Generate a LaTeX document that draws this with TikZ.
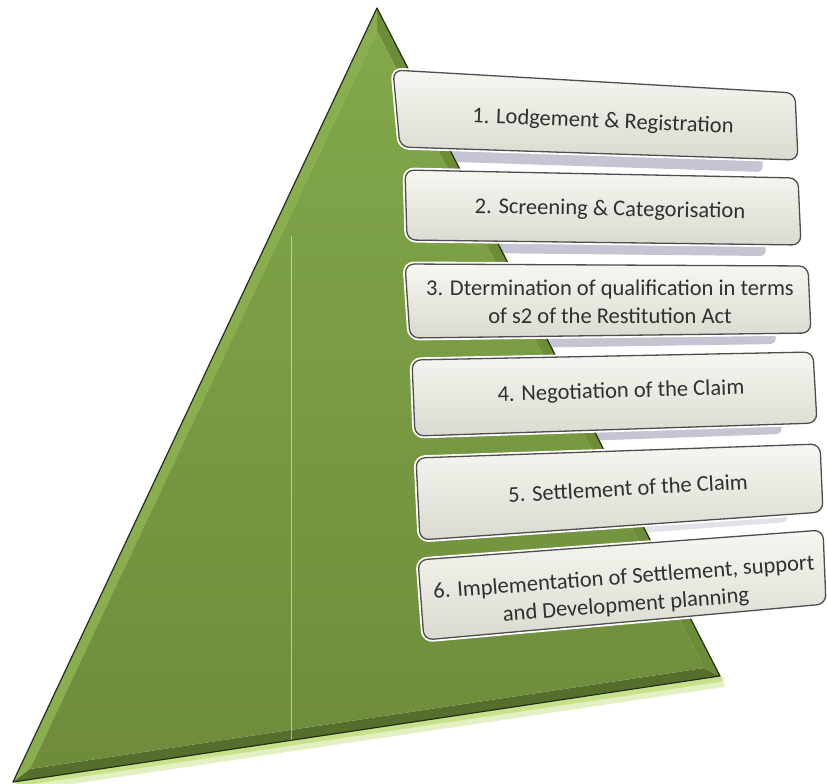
\documentclass[tikz,border=0pt]{standalone}
\usepackage{fontspec}
\setmainfont{Carlito}
\usepackage{tikz}
\usepackage{xcolor}

\definecolor{leafhi}{RGB}{130,168,74}
\definecolor{leaf}{RGB}{110,140,60}
\definecolor{leafside}{RGB}{136,174,78}
\definecolor{leafmid}{RGB}{108,140,56}
\definecolor{leaflo}{RGB}{86,110,44}
\definecolor{leafedge}{RGB}{36,46,22}
\definecolor{glow}{RGB}{200,226,138}
\definecolor{boxtop}{RGB}{247,247,242}
\definecolor{boxbot}{RGB}{218,218,208}
\definecolor{boxline}{RGB}{78,78,78}
\definecolor{boxshade}{RGB}{196,196,210}
\definecolor{ink}{RGB}{48,48,48}

\tikzset{
  stagebox/.style={draw=boxline, line width=1.3pt, rounded corners=9pt,
    top color=boxtop, bottom color=boxbot,
    preaction={draw=white, line width=5pt}},
  stageshadow/.style={fill=boxshade, rounded corners=6pt},
  stagetext/.style={text=ink, align=center, inner sep=0pt,
    font=\fontsize{22.5}{27.5}\selectfont}
}

\begin{document}
\begin{tikzpicture}[x=1pt,y=-1pt]
\useasboundingbox (0,0) rectangle (827,784);
\fill[white] (0,0) rectangle (827,784);

% shadows of the boxes
\fill[stageshadow] (358,82) -- (760,105) -- (763,172) -- (365,159) -- cycle;
\fill[stageshadow] (370,182) -- (763,190) -- (766,256) -- (372,252) -- cycle;
\fill[stageshadow] (370,276) -- (773,278) -- (776,344) -- (375,350) -- cycle;
\fill[stageshadow] (377,372) -- (778,364) -- (782,434) -- (380,448) -- cycle;
\fill[stageshadow, opacity=0.5] (381,470) -- (785,456) -- (788,522) -- (385,552) -- cycle;

% pyramid
\coordinate (apex) at (377,8);
\coordinate (left) at (13,782);
\coordinate (right) at (720,676);
\coordinate (apexin) at (377,31);
\coordinate (leftin) at (30,769);
\coordinate (rightin) at (704,668);

\draw[glow, line width=10pt, opacity=0.5] (18,787) -- (724,682);
\draw[glow, line width=5pt] (16,784) -- (722,679);
\fill[leafside] (apex) -- (left) -- (leftin) -- (apexin) -- cycle;
\fill[leaflo] (left) -- (right) -- (rightin) -- (leftin) -- cycle;
\fill[leafmid] (right) -- (apex) -- (apexin) -- (rightin) -- cycle;
\shade[top color=leafhi, bottom color=leaf] (apexin) -- (leftin) -- (rightin) -- cycle;
\draw[leafedge, line width=1.2pt, line join=round] (apex) -- (left) -- (right) -- cycle;
\draw[white, opacity=0.5, line width=0.8pt] (291,236) -- (291,740);

% stages
\filldraw[stagebox] (393,70) -- (795,93) -- (798,160) -- (400,147) -- cycle;
\filldraw[stagebox] (405,170) -- (798,178) -- (801,245) -- (407,240) -- cycle;
\filldraw[stagebox] (405,264) -- (808,266) -- (811,333) -- (410,338) -- cycle;
\filldraw[stagebox] (412,360) -- (813,352) -- (817,423) -- (415,436) -- cycle;
\filldraw[stagebox] (416,458) -- (820,444) -- (823,512) -- (420,540) -- cycle;
\filldraw[stagebox] (418,560) -- (823,530) -- (826,604) -- (424,640) -- cycle;

\node[stagetext, rotate=-2.3] (s1) at (603,122) {1. Lodgement \& Registration};
\node[stagetext, rotate=-1.1] (s2) at (610,210) {2. Screening \& Categorisation};
\node[stagetext] (s3) at (610,302) {3. Dtermination of qualification in terms\\of s2 of the Restitution Act};
\node[stagetext, rotate=1.6] (s4) at (621,392) {4. Negotiation of the Claim};
\node[stagetext, rotate=3.2] (s5) at (628,488) {5. Settlement of the Claim};
\node[stagetext, rotate=4.4] (s6) at (625,592) {6. Implementation of Settlement, support\\and Development planning};
\end{tikzpicture}
\end{document}
